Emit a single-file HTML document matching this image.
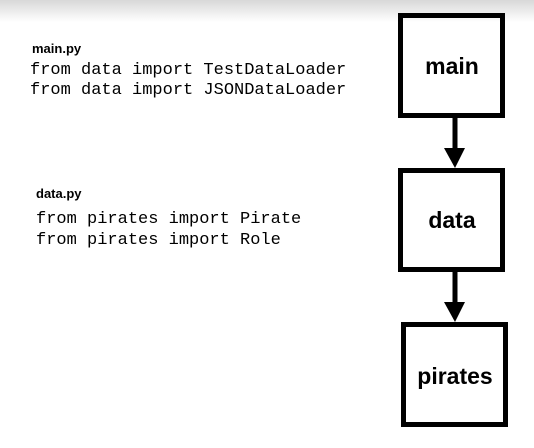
<!DOCTYPE html>
<html><head><style>
body{margin:0;width:534px;height:448px;background:#fff;overflow:hidden;position:relative;font-family:"Liberation Sans",sans-serif}
.t{position:absolute;white-space:pre;color:#000}
.h{font-weight:bold;font-size:13px}
.c{font-family:"Liberation Mono",monospace;font-size:17px}
</style></head><body>
<div style="position:absolute;left:0;top:0;width:534px;height:22px;background:linear-gradient(#d8d8d8,#fff)"></div>
<div class="t h" style="left:32px;top:41px">main.py</div>
<div class="t c" style="left:30px;top:61px">from data import TestDataLoader</div>
<div class="t c" style="left:30px;top:81px">from data import JSONDataLoader</div>
<div class="t h" style="left:36px;top:186px">data.py</div>
<div class="t c" style="left:36px;top:210px">from pirates import Pirate</div>
<div class="t c" style="left:36px;top:231px">from pirates import Role</div>
<svg width="534" height="448" style="position:absolute;left:0;top:0">
<g fill="none" stroke="#000" stroke-width="5">
<rect x="400.5" y="15.5" width="102" height="100"/>
<rect x="400.5" y="170.5" width="102" height="99"/>
<rect x="403.5" y="324.5" width="102" height="100"/>
</g>
<line x1="455" y1="118" x2="455" y2="150" stroke="#000" stroke-width="5"/>
<polygon points="444,148 465,148 455,168" fill="#000"/>
<line x1="455" y1="272" x2="455" y2="304" stroke="#000" stroke-width="5"/>
<polygon points="444,302 465,302 455,322" fill="#000"/>
<g font-family="Liberation Sans,sans-serif" font-size="23" font-weight="bold" text-anchor="middle">
<text x="452" y="74">main</text>
<text x="452" y="228">data</text>
<text x="455" y="384">pirates</text>
</g>
</svg>
</body></html>
